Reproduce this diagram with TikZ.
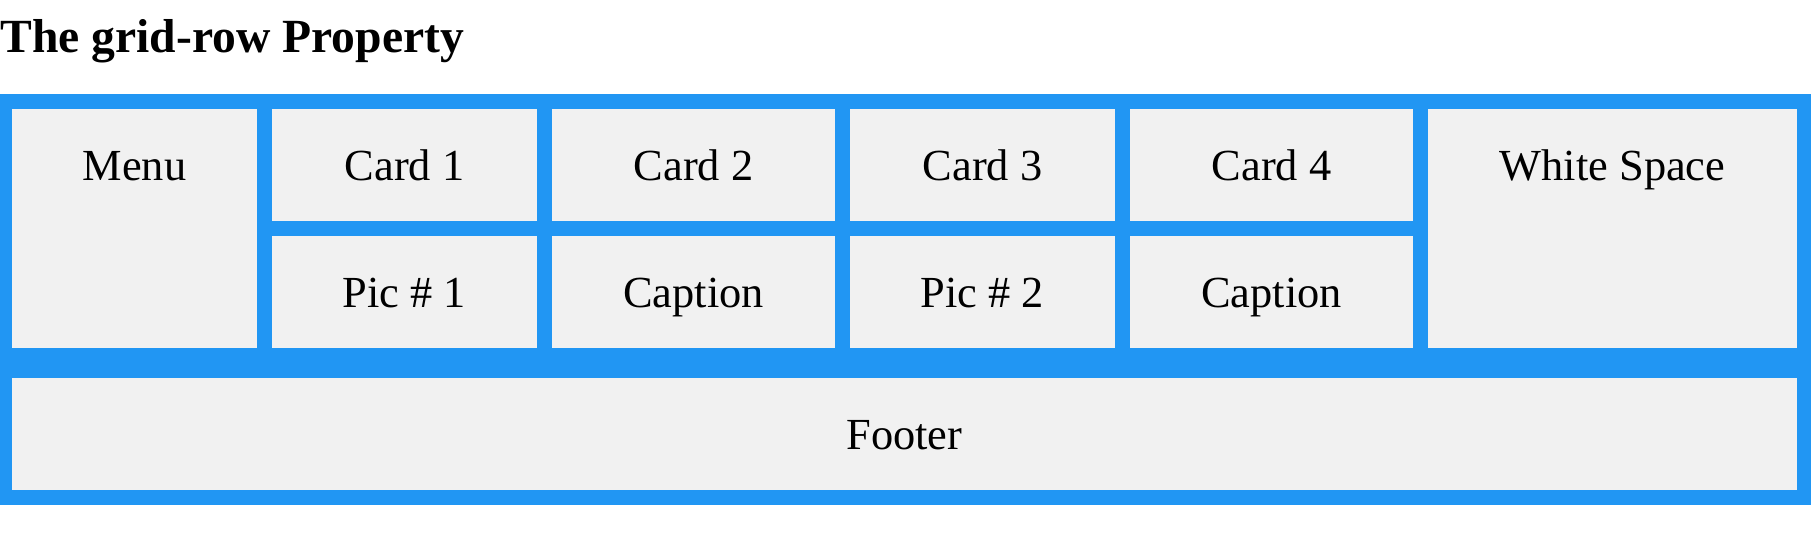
\documentclass[tikz,border=0pt]{standalone}
\usepackage{fontspec}
\setmainfont{Liberation Serif}
\definecolor{gridblue}{RGB}{33,150,243}
\definecolor{cellgray}{RGB}{241,241,241}
\begin{document}
\begin{tikzpicture}[x=0.5pt,y=-0.5pt,
  cellbox/.style={fill=cellgray,draw=none,inner sep=0pt,outer sep=0pt},
  celltext/.style={inner sep=0pt,anchor=base,font=\fontsize{22.2pt}{26pt}\selectfont},
  titletext/.style={inner sep=0pt,anchor=base west,font=\fontsize{23.8pt}{28pt}\selectfont\bfseries}]
\useasboundingbox[fill=white] (0,0) rectangle (1811,542);
\node[titletext] (title) at (0,52) {The grid-row Property};
% container
\fill[gridblue] (0,94) rectangle (1811,505);
% cells
\path[cellbox] (12,109) rectangle (257,348);
\path[cellbox] (272,109) rectangle (537,221);
\path[cellbox] (552,109) rectangle (835,221);
\path[cellbox] (850,109) rectangle (1115,221);
\path[cellbox] (1130,109) rectangle (1413,221);
\path[cellbox] (1428,109) rectangle (1797,348);
\path[cellbox] (272,236) rectangle (537,348);
\path[cellbox] (552,236) rectangle (835,348);
\path[cellbox] (850,236) rectangle (1115,348);
\path[cellbox] (1130,236) rectangle (1413,348);
\path[cellbox] (12,378) rectangle (1797,490);
% texts
\node[celltext] (menu) at (134.5,180) {Menu};
\node[celltext] (card1) at (404.5,180) {Card 1};
\node[celltext] (card2) at (693.5,180) {Card 2};
\node[celltext] (card3) at (982.5,180) {Card 3};
\node[celltext] (card4) at (1271.5,180) {Card 4};
\node[celltext] (white) at (1612.5,180) {White Space};
\node[celltext] (pic1) at (404.5,307) {Pic \# 1};
\node[celltext] (cap1) at (693.5,307) {Caption};
\node[celltext] (pic2) at (982.5,307) {Pic \# 2};
\node[celltext] (cap2) at (1271.5,307) {Caption};
\node[celltext] (footer) at (904.5,449) {Footer};
\end{tikzpicture}
\end{document}
